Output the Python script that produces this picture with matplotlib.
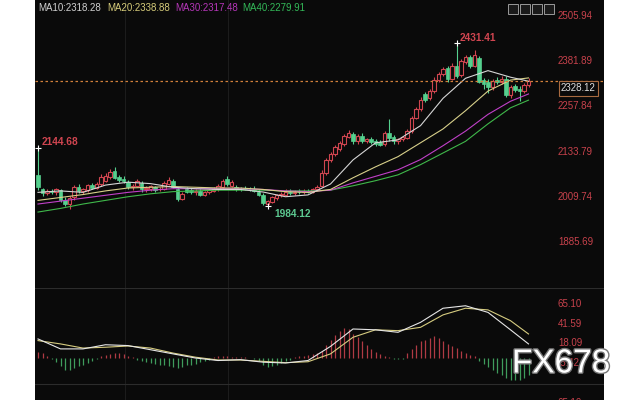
import numpy as np
import matplotlib.pyplot as plt
from matplotlib.patches import Rectangle
import matplotlib.transforms as mtrans
import matplotlib.patheffects as pe

plt.rcParams['font.family'] = ['Liberation Sans', 'DejaVu Sans']

# ---- data ----
opens = [2070, 2030, 2020, 2025, 2022, 2028, 2002, 1990, 2008, 2038,
         2026, 2028, 2042, 2034, 2046, 2054, 2064, 2080, 2064, 2060,
         2050, 2036, 2040, 2048, 2030, 2032, 2036, 2030, 2032, 2046,
         2052, 2030, 2004, 2030, 2028, 2022, 2026, 2016, 2022, 2026,
         2030, 2036, 2058, 2040, 2038, 2032, 2034, 2032, 2032, 2024,
         2016, 1990, 1996, 2006, 2014, 2016, 2024, 2020, 2024, 2022,
         2026, 2024, 2030, 2040, 2076, 2110, 2128, 2140, 2156, 2174,
         2182, 2162, 2178, 2164, 2168, 2162, 2160, 2154, 2186, 2174,
         2162, 2168, 2172, 2190, 2226, 2250, 2292, 2280, 2300, 2330,
         2346, 2362, 2334, 2370, 2344, 2380, 2394, 2370, 2392, 2330,
         2326, 2312, 2330, 2324, 2334, 2288, 2314, 2306, 2300, 2316]
highs = [2144.68, 2035, 2030, 2032, 2034, 2032, 2008, 2012, 2042, 2044,
         2034, 2046, 2048, 2050, 2072, 2076, 2086, 2092, 2070, 2066,
         2056, 2044, 2060, 2054, 2040, 2042, 2040, 2036, 2052, 2064,
         2058, 2036, 2022, 2036, 2034, 2030, 2030, 2026, 2030, 2036,
         2046, 2060, 2066, 2056, 2042, 2038, 2040, 2036, 2040, 2030,
         2020, 2000, 2012, 2018, 2022, 2030, 2030, 2028, 2030, 2030,
         2032, 2034, 2042, 2082, 2116, 2134, 2152, 2162, 2182, 2192,
         2188, 2182, 2184, 2172, 2174, 2168, 2166, 2190, 2222, 2180,
         2172, 2178, 2196, 2232, 2256, 2284, 2298, 2306, 2338, 2352,
         2366, 2368, 2376, 2431.41, 2388, 2400, 2400, 2412, 2396, 2336,
         2334, 2334, 2338, 2340, 2340, 2316, 2320, 2314, 2322, 2336]
lows = [2028, 2012, 2015, 2018, 2016, 1996, 1984, 1976, 2002, 2020,
        2018, 2024, 2030, 2030, 2040, 2050, 2060, 2058, 2050, 2048,
        2030, 2028, 2036, 2024, 2022, 2026, 2024, 2026, 2028, 2042,
        2034, 1998, 2000, 2020, 2018, 2016, 2012, 2012, 2018, 2022,
        2026, 2032, 2040, 2036, 2026, 2026, 2028, 2026, 2022, 2012,
        1988, 1984.12, 1992, 2002, 2008, 2012, 2016, 2016, 2018, 2018,
        2020, 2020, 2026, 2036, 2070, 2104, 2122, 2136, 2150, 2170,
        2156, 2156, 2158, 2158, 2156, 2150, 2148, 2150, 2164, 2156,
        2156, 2162, 2168, 2186, 2222, 2246, 2270, 2276, 2294, 2326,
        2340, 2326, 2330, 2336, 2338, 2374, 2364, 2366, 2322, 2306,
        2296, 2304, 2320, 2318, 2284, 2282, 2298, 2274, 2294, 2310]
closes = [2037, 2020, 2026, 2024, 2030, 2000, 1990, 2006, 2038, 2026,
          2030, 2042, 2034, 2046, 2064, 2068, 2078, 2062, 2056, 2052,
          2036, 2040, 2054, 2030, 2034, 2040, 2028, 2032, 2048, 2056,
          2038, 2004, 2018, 2024, 2022, 2026, 2016, 2022, 2028, 2032,
          2040, 2054, 2046, 2050, 2030, 2030, 2032, 2030, 2026, 2016,
          1992, 1997, 2008, 2014, 2018, 2024, 2020, 2024, 2022, 2026,
          2024, 2030, 2038, 2076, 2110, 2128, 2146, 2158, 2176, 2186,
          2162, 2176, 2164, 2168, 2160, 2156, 2152, 2184, 2172, 2162,
          2168, 2174, 2190, 2226, 2250, 2276, 2276, 2300, 2330, 2346,
          2360, 2332, 2370, 2342, 2382, 2394, 2370, 2398, 2326, 2318,
          2312, 2328, 2324, 2334, 2288, 2310, 2302, 2300, 2316, 2328.12]

# moving averages, read every 5 bars
ma_idx = [0, 5, 10, 15, 20, 25, 30, 35, 40, 45, 50, 55, 60, 65, 70, 75,
          80, 85, 90, 95, 100, 105, 109]
ma10 = [2022, 2026, 2022, 2042, 2050, 2046, 2036, 2032, 2030, 2030, 2023, 2010,
        2015, 2045, 2111, 2158, 2166, 2205, 2280, 2335, 2356, 2338, 2327]
ma20 = [2000, 2008, 2016, 2026, 2034, 2036, 2038, 2036, 2034, 2034, 2030, 2024,
        2022, 2030, 2062, 2092, 2120, 2158, 2196, 2246, 2300, 2330, 2336]
ma30 = [1990, 1998, 2006, 2014, 2022, 2028, 2032, 2032, 2032, 2032, 2030, 2026,
        2024, 2028, 2048, 2066, 2084, 2112, 2150, 2190, 2236, 2272, 2292]
ma40 = [1968, 1978, 1990, 2000, 2010, 2018, 2024, 2026, 2028, 2028, 2028, 2026,
        2026, 2028, 2040, 2054, 2070, 2098, 2130, 2162, 2210, 2254, 2275]

# MACD lines (same sampling) and histogram per bar
dif = [23, 11, 11, 16, 15, 10, 5, 0, -3, -2, -5, -6,
       -3, 14, 35, 34, 31, 43, 60, 63, 55, 34, 17]
dea = [21, 17, 12, 13, 14.5, 12, 6, 1, -2.4, -2.4, -4, -5.6,
       -4.5, 5, 25, 34, 33, 37, 52, 60, 58, 45, 29]
hist = [7, 6, 3, -1, -5, -10, -14, -15, -12, -10,
        -8, -6, -3, -1, 2, 4, 5, 6, 6, 5,
        3, 1, -2, -4, -5, -6, -7, -8, -9, -10,
        -11, -12, -11, -9, -8, -7, -5, -4, -2, 1,
        2, 2, 2, 1, 1, 1, 1, 0.5, -1, -4,
        -8, -11, -10, -8, -6, -4, -2, 1, 2, 3,
        4, 5, 6, 8, 16, 22, 28, 33, 36, 35,
        29, 25, 21, 16, 11, 7, 5, 3, 1, -1,
        -1, -1, 6, 11, 16, 20, 22, 24, 26, 24,
        21, 17, 14, 12, 9, 6, 4, 2, -3, -7,
        -11, -15, -18, -21, -24, -26, -27, -27, -24, -21]

price_ticks = [2505.94, 2381.89, 2257.84, 2133.79, 2009.74, 1885.69]
macd_ticks = [65.10, 41.59, 18.09, -5.42]
ma_labels = ['MA10:2318.28', 'MA20:2338.88', 'MA30:2317.48', 'MA40:2279.91']
last_price = 2328.12

BG = '#0a0a0a'
UP = '#d04550'
DOWN = '#55d08e'
TICKC = '#c8424c'
ma_colors = ['#d6d6d6', '#d8d08a', '#c040c8', '#3fb84a']
legend_colors = ['#d0d0d0', '#d6cc7a', '#b536b8', '#33b858']

fig = plt.figure(figsize=(6.4, 4.0), dpi=100)
fig.patch.set_facecolor('white')

W, H = 640.0, 400.0
x0, x1 = 35, 604
step = 4.5
xlim = ((x0 - 38) / step, (x1 - 38) / step)

ax = fig.add_axes([x0 / W, 112 / H, (x1 - x0) / W, 288 / H])
axm = fig.add_axes([x0 / W, 0, (x1 - x0) / W, 112 / H])
for a in (ax, axm):
    a.set_facecolor(BG)
    a.set_xlim(*xlim)
    a.set_xticks([])
    a.set_yticks([])
    for s in a.spines.values():
        s.set_visible(False)

ax.set_ylim(1759.6, 2549.8)
axm.set_ylim(-50.6, 84.4)

# faint vertical grid
for px in [125, 228]:
    for a in (ax, axm):
        a.axvline((px - 38) / step, color='#1c1c1c', lw=0.8, zorder=0)
axm.axhline(84.0, color='#2c2c2c', lw=0.8)
axm.axhline(-31.3, color='#2c2c2c', lw=0.8)

n = len(closes)
xs = np.arange(n)
bw = 0.72
for i in range(n):
    o, h, l, c = opens[i], highs[i], lows[i], closes[i]
    up = c >= o
    col = UP if up else DOWN
    ax.vlines(i, l, h, color=col, lw=0.8, zorder=2)
    lo, hi = min(o, c), max(o, c)
    if hi - lo < 1.5:
        hi = lo + 1.5
    if up:
        ax.add_patch(Rectangle((i - bw / 2, lo), bw, hi - lo, facecolor=BG,
                               edgecolor=col, lw=0.8, zorder=3))
    else:
        ax.add_patch(Rectangle((i - bw / 2, lo), bw, hi - lo, facecolor=col,
                               edgecolor=col, lw=0.5, zorder=3))

for vals, col in zip([ma40, ma30, ma20, ma10], ma_colors[::-1]):
    ax.plot(ma_idx, vals, color=col, lw=0.8, zorder=4)

ax.axhline(last_price, color='#d0803a', lw=0.9, ls=(0, (2, 2)), zorder=5)

# extreme markers
ax.plot([0, 93], [2144.68, 2431.41], '+', color='white', ms=5, mew=0.8, zorder=6)
ax.plot([51], [1984.12], '+', color='white', ms=5, mew=0.8, zorder=6)
ax.text(0.9, 2160, '2144.68', color=UP, fontsize=7.3, fontweight='bold', va='center')
ax.text(52.5, 1962, '1984.12', color='#5cc890', fontsize=7.3, fontweight='bold', va='center')
ax.text(93.8, 2446, '2431.41', color=UP, fontsize=7.3, fontweight='bold', va='center')

# price axis labels drawn inside the panel
tr = mtrans.blended_transform_factory(ax.transAxes, ax.transData)
lx = (558 - x0) / (x1 - x0)
for t in price_ticks:
    ax.text(lx, t, '%.2f' % t, color=TICKC, fontsize=7, va='center', transform=tr)
ax.text((561 - x0) / (x1 - x0), 2307, '%.2f' % last_price, color='#e0e0e0', fontsize=7,
        va='center', transform=tr, zorder=7,
        bbox=dict(boxstyle='square,pad=0.25', fc=BG, ec='#a86a40', lw=0.8))

# MA legend
for lab, col, px in zip(ma_labels, legend_colors, [38, 107, 175, 242]):
    fig.text(px / W, 1 - 8 / H, lab, color=col, fontsize=7, va='center')

# toolbar icons
for px in [508, 520, 532, 544]:
    fig.patches.append(Rectangle((px / W, 1 - 14 / H), 10 / W, 10 / H, transform=fig.transFigure,
                                 fc='#1a1a1a', ec='#9a9a9a', lw=0.7))

# MACD panel
hcol = ['#b03a44' if v >= 0 else '#3f9c5c' for v in hist]
axm.vlines(xs, 0, hist, colors=hcol, lw=0.9, zorder=2)
axm.plot(ma_idx, dea, color='#d6cc80', lw=0.8, zorder=3)
axm.plot(ma_idx, dif, color='#e6e6e6', lw=0.8, zorder=3)

trm = mtrans.blended_transform_factory(axm.transAxes, axm.transData)
for t in macd_ticks:
    axm.text(lx, t, '%.2f' % t, color=TICKC, fontsize=7, va='center', transform=trm)
fig.text(558 / W, -3 / H, '65.10', color=TICKC, fontsize=7, va='center')

fig.text(512 / W, 1 - 364 / H, 'FX678', color='white', fontsize=24, va='center',
         path_effects=[pe.withStroke(linewidth=2, foreground='#777777')], zorder=10)

fig.savefig('out.png', dpi=100, facecolor=fig.get_facecolor())
